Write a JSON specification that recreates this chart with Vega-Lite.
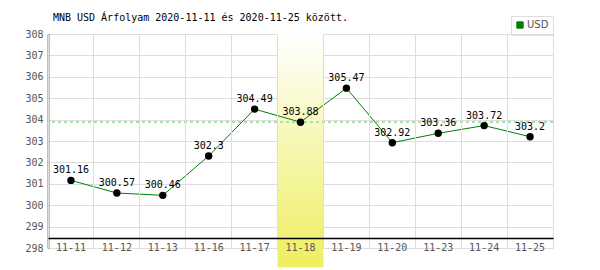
{
  "$schema": "https://vega.github.io/schema/vega-lite/v6.json",
  "width": 505,
  "height": 214,
  "autosize": {"type": "none"},
  "padding": {"left": 48, "top": 34, "right": 47, "bottom": 22},
  "background": "white",
  "title": {
    "text": "MNB USD Árfolyam 2020-11-11 és 2020-11-25 között.",
    "anchor": "start",
    "font": "DejaVu Sans Mono",
    "fontSize": 10,
    "fontWeight": "normal",
    "color": "#000000",
    "offset": -7,
    "dx": 28
  },
  "config": {
    "view": {"stroke": "#dddddd", "strokeWidth": 1},
    "axis": {"labelFont": "DejaVu Sans Mono", "labelFontSize": 10, "labelColor": "#555555", "gridColor": "#dddddd", "gridOpacity": 1, "ticks": false, "title": null, "labelOverlap": false},
    "axisY": {"domainColor": "#000000", "domainWidth": 1.5, "labelPadding": 5, "grid": true}
  },
  "data": {
    "values": [
      {"date": "11-11", "value": 301.16, "series": "USD"},
      {"date": "11-12", "value": 300.57, "series": "USD"},
      {"date": "11-13", "value": 300.46, "series": "USD"},
      {"date": "11-16", "value": 302.3, "series": "USD"},
      {"date": "11-17", "value": 304.49, "series": "USD"},
      {"date": "11-18", "value": 303.88, "series": "USD"},
      {"date": "11-19", "value": 305.47, "series": "USD"},
      {"date": "11-20", "value": 302.92, "series": "USD"},
      {"date": "11-23", "value": 303.36, "series": "USD"},
      {"date": "11-24", "value": 303.72, "series": "USD"},
      {"date": "11-25", "value": 303.2, "series": "USD"}
    ]
  },
  "layer": [
    {
      "transform": [{"filter": "datum.date == '11-18'"}],
      "mark": {
        "type": "rect",
        "color": {"gradient": "linear", "x1": 0, "y1": 0, "x2": 0, "y2": 1, "stops": [{"offset": 0, "color": "#ffffff"}, {"offset": 1, "color": "#eeee60"}]}
      },
      "encoding": {
        "x": {
          "field": "date",
          "type": "ordinal",
          "sort": ["11-11","11-12","11-13","11-16","11-17","11-18","11-19","11-20","11-23","11-24","11-25"],
          "scale": {"domain": ["11-11","11-12","11-13","11-16","11-17","11-18","11-19","11-20","11-23","11-24","11-25"], "paddingInner": 0, "paddingOuter": 0},
          "axis": {"bandPosition": 0, "grid": true, "domainColor": "#000000", "domainWidth": 1.5, "offset": -10, "labelPadding": 4, "labelAngle": 0}
        },
        "y": {"datum": 308, "type": "quantitative", "scale": {"domain": [298, 308], "nice": false, "zero": false}, "axis": {"values": [298,299,300,301,302,303,304,305,306,307,308], "tickCount": 20, "format": "d"}},
        "y2": {"datum": 297.1}
      }
    },
    {
      "mark": {"type": "rule", "color": "#a8e0a8", "strokeDash": [3, 3], "strokeWidth": 1},
      "encoding": {"y": {"datum": 303.88, "type": "quantitative", "axis": {"values": [298,299,300,301,302,303,304,305,306,307,308], "tickCount": 20, "format": "d"}}}
    },
    {
      "mark": {"type": "line", "strokeWidth": 1},
      "encoding": {
        "x": {"field": "date", "type": "ordinal", "sort": null},
        "y": {"field": "value", "type": "quantitative", "axis": {"values": [298,299,300,301,302,303,304,305,306,307,308], "tickCount": 20, "format": "d"}},
        "color": {
          "field": "series",
          "type": "nominal",
          "scale": {"domain": ["USD"], "range": ["#008000"]},
          "legend": {
            "title": null,
            "orient": "none",
            "legendX": 463,
            "legendY": -18,
            "symbolType": "square",
            "symbolSize": 40,
            "symbolFillColor": "#008000",
            "symbolStrokeColor": "#004400",
            "symbolStrokeWidth": 1,
            "strokeColor": "#dddddd",
            "padding": 4,
            "labelFont": "DejaVu Sans",
            "labelFontSize": 10,
            "labelColor": "#555555",
            "labelOffset": 2
          }
        }
      }
    },
    {
      "mark": {"type": "point", "filled": true, "color": "#000000", "size": 55, "opacity": 1},
      "encoding": {
        "x": {"field": "date", "type": "ordinal", "sort": null},
        "y": {"field": "value", "type": "quantitative", "axis": {"values": [298,299,300,301,302,303,304,305,306,307,308], "tickCount": 20, "format": "d"}}
      }
    },
    {
      "mark": {"type": "text", "font": "DejaVu Sans Mono", "fontSize": 10, "color": "#000000", "baseline": "bottom", "dy": -5},
      "encoding": {
        "x": {"field": "date", "type": "ordinal", "sort": null},
        "y": {"field": "value", "type": "quantitative", "axis": {"values": [298,299,300,301,302,303,304,305,306,307,308], "tickCount": 20, "format": "d"}},
        "text": {"field": "value", "type": "quantitative"}
      }
    }
  ]
}
